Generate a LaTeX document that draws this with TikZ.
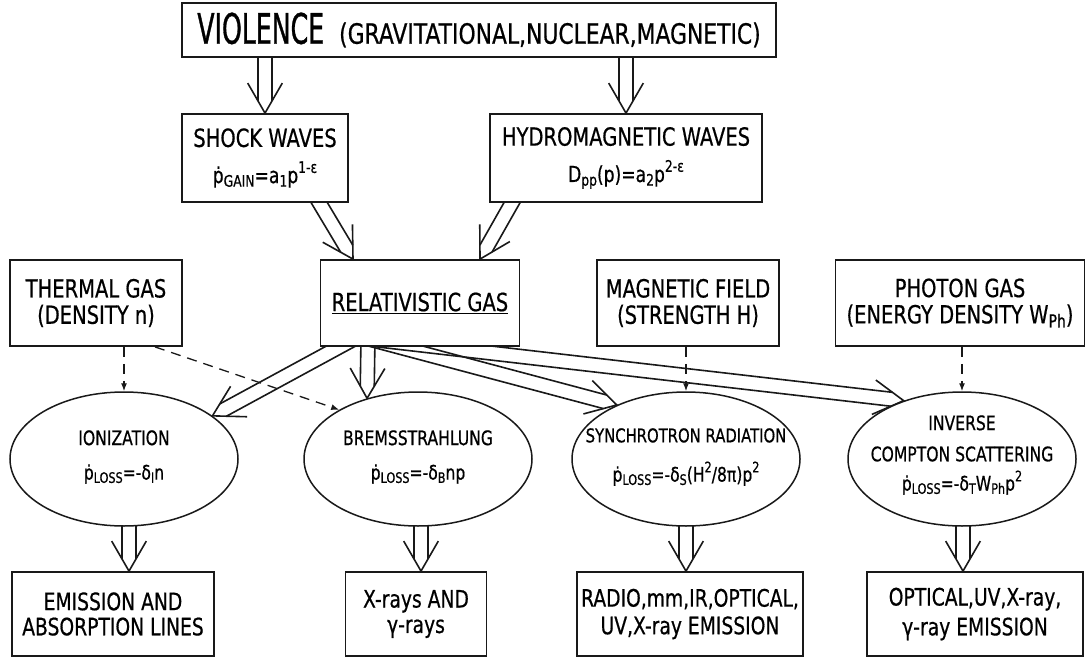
\documentclass[tikz,border=0pt]{standalone}
\usepackage{fontspec}
\setmainfont{DejaVu Sans}[FakeStretch=0.78,FakeBold=0.6]
\newfontfamily\vfont{DejaVu Sans}[FakeStretch=0.6,FakeBold=0.8]
\usepackage{graphicx}
\usetikzlibrary{shapes.geometric,arrows.meta,calc,backgrounds}
\newcommand\lo[1]{\raisebox{-0.3ex}{\scalebox{0.72}{#1}}}
\newcommand\hi[1]{\raisebox{0.85ex}{\scalebox{0.72}{#1}}}
\newcommand\fs[1]{\fontsize{#1}{#1}\selectfont}
\newcommand\dbl[2]{%
  \draw[dblline] ($(#1)!7pt!90:(#2)$) -- ($(#2)!12.1pt!(#1)!7pt!-90:(#1)$);
  \draw[dblline] ($(#1)!7pt!-90:(#2)$) -- ($(#2)!12.1pt!(#1)!7pt!90:(#1)$);
  \draw[dblline] ($(#2)!30pt!(#1)!17.3pt!-90:(#1)$) -- (#2) -- ($(#2)!30pt!(#1)!17.3pt!90:(#1)$);
}
\tikzset{
  box/.style={draw=black!90, line width=1.8pt, fill=white, inner sep=0pt, align=center},
  ell/.style={ellipse, draw=black!90, line width=1.5pt, fill=white, minimum width=228pt, minimum height=134pt, inner sep=0pt},
  etext/.style={inner sep=0pt, align=center},
  dblline/.style={draw=black!90, line width=1.6pt},
  dashlink/.style={draw=black!90, line width=1.3pt, dash pattern=on 10pt off 7pt, -{Latex[length=8pt,width=6pt]}},
}
\begin{document}
\begin{tikzpicture}[x=1pt,y=-1pt]
\useasboundingbox (0,0) rectangle (1086,660);

% top
\node[box, minimum width=594pt, minimum height=54pt] (vio) at (479,30)
  {{\vfont\fs{42}VIOLENCE}\hspace{15pt}{\fs{28}(GRAVITATIONAL,NUCLEAR,MAGNETIC)}};
\node[box, minimum width=166pt, minimum height=88pt] (shock) at (265,158)
  {\fs{25}SHOCK WAVES\\[13pt]\fs{22}ṗ\lo{GAIN}=a\lo{1}p\hi{1-ε}};
\node[box, minimum width=272pt, minimum height=88pt] (hydro) at (626,158)
  {\fs{25}HYDROMAGNETIC WAVES\\[13pt]\fs{22}D\lo{pp}(p)=a\lo{2}p\hi{2-ε}};

% middle row
\node[box, minimum width=172pt, minimum height=86pt] (thermal) at (96,303)
  {\fs{25}THERMAL GAS\\[6pt]\fs{25}(DENSITY n)};
\node[box, minimum width=199pt, minimum height=86pt] (rel) at (420,303)
  {\fs{25}\underline{RELATIVISTIC GAS}};
\node[box, minimum width=182pt, minimum height=86pt] (mag) at (688,303)
  {\fs{25}MAGNETIC FIELD\\[6pt]\fs{25}(STRENGTH H)};
\node[box, minimum width=249pt, minimum height=86pt] (phot) at (960,303)
  {\fs{25}PHOTON GAS\\[6pt]\fs{25}(ENERGY DENSITY W\lo{Ph})};

% ellipses
\node[ell] (ion) at (124,459) {};
\node[ell] (brems) at (418,459) {};
\node[ell] (synch) at (686,459) {};
\node[ell] (ic) at (962,459) {};
\node[etext] at ($(ion)+(0,-2)$) {\fs{20}IONIZATION\\[18pt]\fs{20}ṗ\lo{LOSS}=-δ\lo{I}n};
\node[etext] at ($(brems)+(0,-2)$) {\fs{20}BREMSSTRAHLUNG\\[18pt]\fs{20}ṗ\lo{LOSS}=-δ\lo{B}np};
\node[etext] at ($(synch)+(0,-2)$) {\fs{19}SYNCHROTRON RADIATION\\[18pt]\fs{20}ṗ\lo{LOSS}=-δ\lo{S}(H\hi{2}/8π)p\hi{2}};
\node[etext] at ($(ic)+(0,-4)$) {\fs{20}INVERSE\\[15pt]\fs{20}COMPTON SCATTERING\\[8pt]\fs{20}ṗ\lo{LOSS}=-δ\lo{T}W\lo{Ph}p\hi{2}};

% bottom
\node[box, minimum width=202pt, minimum height=84pt] (emis) at (113,614)
  {\fs{24}EMISSION AND\\[6pt]\fs{24}ABSORPTION LINES};
\node[box, minimum width=141pt, minimum height=84pt] (xray) at (416,614)
  {\fs{24}X-rays AND\\[6pt]\fs{24}γ-rays};
\node[box, minimum width=226pt, minimum height=84pt] (radio) at (690,614)
  {\fs{24}RADIO,mm,IR,OPTICAL,\\[6pt]\fs{24}UV,X-ray EMISSION};
\node[box, minimum width=216pt, minimum height=84pt] (optic) at (975,614)
  {\fs{24}OPTICAL,UV,X-ray,\\[6pt]\fs{24}γ-ray EMISSION};

% connector end points
\coordinate (a1s) at ($(vio.south -| shock.north)+(0,-8)$);
\coordinate (a2s) at ($(vio.south -| hydro.north)+(0,-8)$);
\coordinate (a3s) at ($(shock.south)+(49,-9)$);
\coordinate (a3e) at ($(rel.north)+(-67,0)$);
\coordinate (a4s) at ($(hydro.south)+(-109,-9)$);
\coordinate (a4e) at ($(rel.north)+(60,0)$);
\coordinate (a5s) at ($(rel.south)+(-64,-9)$);
\coordinate (a6s) at ($(rel.south)+(-52,-9)$);
\coordinate (a7s) at ($(rel.south)+(-55,-9)$);
\coordinate (a8s) at ($(rel.south)+(-60,-9)$);
\coordinate (b1s) at ($(ion.south)+(5,-8)$);
\coordinate (b1e) at (b1s |- emis.north);
\coordinate (b2s) at ($(brems.south)+(3,-8)$);
\coordinate (b2e) at (b2s |- xray.north);
\coordinate (b3s) at ($(synch.south)+(0,-8)$);
\coordinate (b3e) at (b3s |- radio.north);
\coordinate (b4s) at ($(ic.south)+(1,-8)$);
\coordinate (b4e) at (b4s |- optic.north);
\coordinate (d2s) at ($(thermal.south)+(59,0)$);

\begin{scope}[on background layer]
  \fill[white] (0,0) rectangle (1086,660);
  \dbl{a1s}{shock.north}
  \dbl{a2s}{hydro.north}
  \dbl{a3s}{a3e}
  \dbl{a4s}{a4e}
  \dbl{a5s}{ion.26}
  \dbl{a6s}{brems.130}
  \dbl{a7s}{synch.142}
  \dbl{a8s}{ic.135}
  \dbl{b1s}{b1e}
  \dbl{b2s}{b2e}
  \dbl{b3s}{b3e}
  \dbl{b4s}{b4e}
\end{scope}

% dashed influences
\draw[dashlink] (ion.north |- thermal.south) -- (ion.north);
\draw[dashlink] (d2s) -- (brems.148);
\draw[dashlink] (synch.north |- mag.south) -- (synch.north);
\draw[dashlink] (ic.north |- phot.south) -- (ic.north);
\end{tikzpicture}
\end{document}
